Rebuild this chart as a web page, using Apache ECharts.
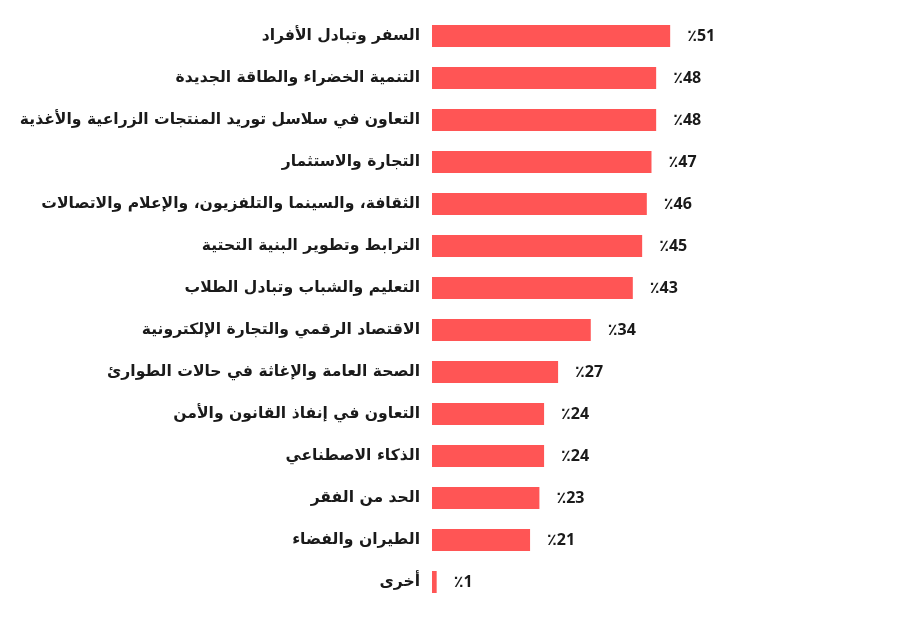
<!DOCTYPE html>
<html>
<head>
<meta charset="utf-8">
<script src="https://cdn.jsdelivr.net/npm/echarts@6/dist/echarts.min.js"></script>
<style>
html,body{margin:0;padding:0;background:#fff;}
#chart{width:907px;height:617px;}
</style>
</head>
<body>
<div id="chart"></div>
<script>
var categories = [
  "السفر وتبادل الأفراد",
  "التنمية الخضراء والطاقة الجديدة",
  "التعاون في سلاسل توريد المنتجات الزراعية والأغذية",
  "التجارة والاستثمار",
  "الثقافة، والسينما والتلفزيون، والإعلام والاتصالات",
  "الترابط وتطوير البنية التحتية",
  "التعليم والشباب وتبادل الطلاب",
  "الاقتصاد الرقمي والتجارة الإلكترونية",
  "الصحة العامة والإغاثة في حالات الطوارئ",
  "التعاون في إنفاذ القانون والأمن",
  "الذكاء الاصطناعي",
  "الحد من الفقر",
  "الطيران والفضاء",
  "أخرى"
];
var values = [51, 48, 48, 47, 46, 45, 43, 34, 27, 24, 24, 23, 21, 1];

var chart = echarts.init(document.getElementById('chart'));
chart.setOption({
  backgroundColor: '#ffffff',
  animation: false,
  grid: { left: 432, right: 8, top: 15, bottom: 14, containLabel: false },
  xAxis: {
    type: 'value', min: 0, max: 100,
    show: false
  },
  yAxis: {
    type: 'category',
    data: categories,
    inverse: true,
    axisLine: { show: false },
    axisTick: { show: false },
    axisLabel: {
      margin: 12,
      fontSize: 15.6,
      fontWeight: 'bold',
      color: '#1a1a1a',
      padding: [3, 0, 0, 0],
      fontFamily: '"DejaVu Sans", "Noto Sans", sans-serif'
    }
  },
  series: [{
    type: 'bar',
    data: values,
    barWidth: 22,
    itemStyle: { color: '#FF5555' },
    label: {
      show: true,
      position: 'right',
      distance: 17,
      fontSize: 16,
      fontWeight: 'bold',
      color: '#1a1a1a',
      fontFamily: '"Open Sans", "DejaVu Sans", sans-serif',
      formatter: function (p) { return '\u066A' + p.value; }
    }
  }]
});
</script>
</body>
</html>
